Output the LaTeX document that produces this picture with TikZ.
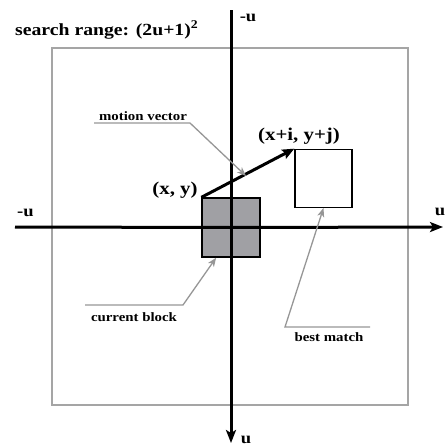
\documentclass[tikz,border=0pt]{standalone}
\usepackage{fontspec}
\setmainfont{Liberation Serif}[FakeStretch=1.16]
\usetikzlibrary{arrows.meta,calc}
\definecolor{framegray}{RGB}{165,165,165}
\definecolor{blockgray}{RGB}{160,160,164}
\definecolor{leadgray}{RGB}{150,150,150}

\begin{document}
\begin{tikzpicture}[
        x=1pt, y=-1pt,
        axis/.style={draw, line width=3pt, -{Stealth[length=13pt, width=10pt, inset=3pt]}},
        axislabel/.style={font=\fontsize{16}{16}\selectfont\bfseries, inner sep=0pt, anchor=base},
        block/.style={rectangle, draw=black, line width=1.3pt, inner sep=0pt},
        curblock/.style={block, fill=blockgray, minimum width=58pt, minimum height=59pt},
        matchblock/.style={block, fill=white, minimum width=57pt, minimum height=58pt},
        coordlabel/.style={font=\fontsize{18}{18}\selectfont\bfseries, inner sep=0pt, anchor=base},
        note/.style={font=\fontsize{12.8}{12.8}\selectfont\bfseries, inner sep=0pt, anchor=base},
        leader/.style={draw=leadgray, line width=1.3pt, -{Stealth[length=9pt, width=7pt, inset=2.5pt]}},
        motion/.style={draw, line width=3pt, -{Stealth[length=12pt, width=10pt, inset=2pt]}}
    ]
    \useasboundingbox (0,0) rectangle (446,447);

    % ==========================================
    % 1. Search window
    % ==========================================
    \draw[framegray, line width=1.4pt] (52,48) rectangle (408,405);
    \node[anchor=base west, inner sep=0pt, font=\fontsize{17}{17}\selectfont\bfseries] (title) at (15,35) {search range: (2u+1)\textsuperscript{2}};

    % ==========================================
    % 2. Blocks and axes
    % ==========================================
    \node[curblock] (cur) at (231,227.5) {};
    \node[matchblock] (best) at (323.5,178.3) {};

    \coordinate (xleft) at (15,227);
    \coordinate (xright) at (443,227);
    \coordinate (ytop) at (231,10);
    \coordinate (ybottom) at (231,443);
    \path[axis, -] (xleft) -- (cur.center);
    \path[axis] (cur.center) -- (xright);
    \path[axis, -] (ytop) -- (cur.center);
    \path[axis] (cur.center) -- (ybottom);

    \node[axislabel] (xneg) at (25.5,216.7) {-u};
    \node[axislabel] (xpos) at (440,215) {u};
    \node[axislabel] (yneg) at (248,21.7) {-u};
    \node[axislabel] (ypos) at (246,443) {u};

    % ==========================================
    % 3. Motion vector
    % ==========================================
    \path[motion] (cur.north west) -- coordinate[pos=0.48] (mvmid) (best.north west);
    \node[coordlabel] (xy) at (175,194) {(x, y)};
    \node[coordlabel] (xyij) at (299,140) {(x+i, y+j)};

    % ==========================================
    % 4. Notes with leader lines
    % ==========================================
    \node[note] (mvnote) at (143,120) {motion vector};
    \coordinate (mv1) at (94,123);
    \coordinate (mv2) at (190,123);
    \path[leader] (mv1) -- (mv2) -- ([yshift=-2pt]mvmid);

    \node[note] (curnote) at (134,321) {current block};
    \coordinate (cb1) at (85,305);
    \coordinate (cb2) at (183,305);
    \path[leader] (cb1) -- (cb2) -- ($(cur.south west)!0.25!(cur.south east)$);

    \node[note] (bestnote) at (329,341) {best match};
    \coordinate (bm1) at (370,327);
    \coordinate (bm2) at (285,327);
    \path[leader] (bm1) -- (bm2) -- (best.south);

\end{tikzpicture}
\end{document}
